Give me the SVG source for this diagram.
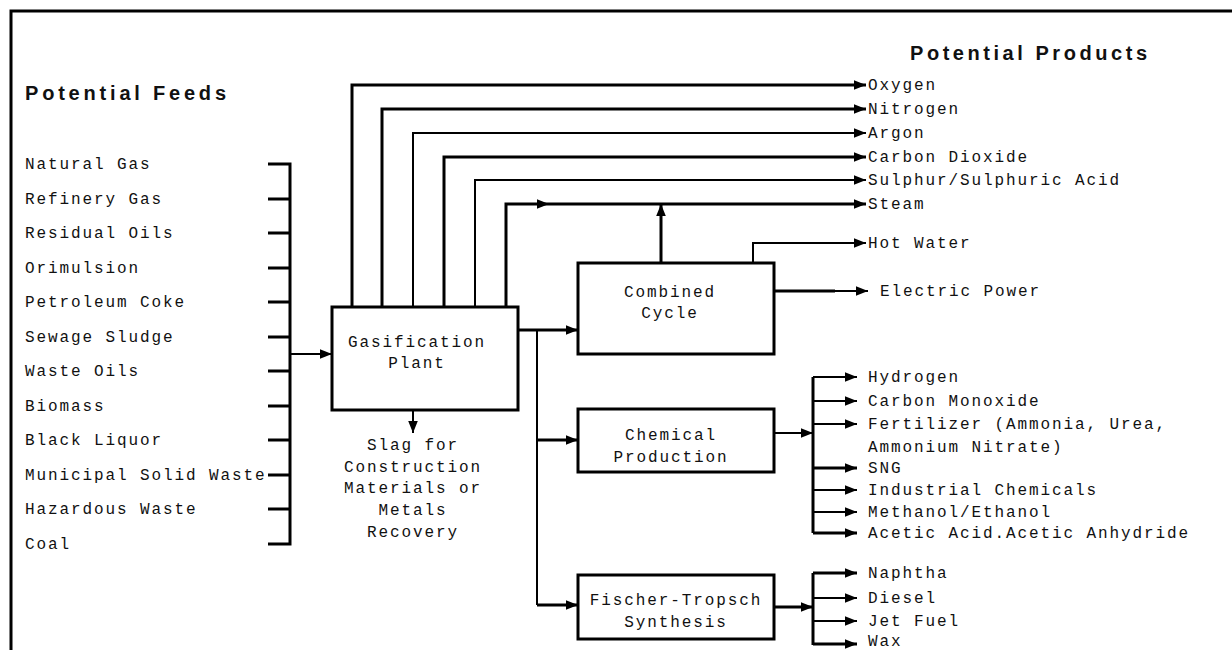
<svg xmlns="http://www.w3.org/2000/svg" width="1232" height="650" viewBox="0 0 1232 650">
<style>
.t{font-family:"Liberation Mono","DejaVu Sans Mono",monospace;font-size:16px;letter-spacing:1.9px;fill:#111}
.c{text-anchor:middle}
.h{font-family:"Liberation Sans","DejaVu Sans",sans-serif;font-size:20px;font-weight:bold;fill:#111;letter-spacing:1px}
.box{fill:#fff;stroke:#000;stroke-width:3}
.ln{fill:none;stroke:#000;stroke-width:2}
.tk{fill:none;stroke:#000;stroke-width:3}
.ar{marker-end:url(#ah)}
</style>
<defs>
<marker id="ah" viewBox="0 0 10 8" refX="10" refY="4" markerWidth="12" markerHeight="10" markerUnits="userSpaceOnUse" orient="auto"><path d="M0,0 L10,4 L0,8 z" fill="#000"/></marker>
</defs>
<rect width="1232" height="650" fill="#fff"/>
<path d="M11,650 V11 H1232" fill="none" stroke="#000" stroke-width="3"/>
<text class="h" x="25" y="100" textLength="202">Potential Feeds</text>
<text class="h" x="910" y="60" textLength="238">Potential Products</text>

<g id="feeds">
<text class="t" x="25" y="169">Natural Gas</text>
<text class="t" x="25" y="204">Refinery Gas</text>
<text class="t" x="25" y="238">Residual Oils</text>
<text class="t" x="25" y="273">Orimulsion</text>
<text class="t" x="25" y="307">Petroleum Coke</text>
<text class="t" x="25" y="342">Sewage Sludge</text>
<text class="t" x="25" y="376">Waste Oils</text>
<text class="t" x="25" y="411">Biomass</text>
<text class="t" x="25" y="445">Black Liquor</text>
<text class="t" x="25" y="480">Municipal Solid Waste</text>
<text class="t" x="25" y="514">Hazardous Waste</text>
<text class="t" x="25" y="549">Coal</text>
</g>

<g id="gasification">
<rect class="box" x="332" y="307" width="186" height="103"/>
<text class="t c" x="417" y="347">Gasification</text>
<text class="t c" x="417" y="368">Plant</text>
</g>
<g id="slag">
<text class="t c" x="413" y="450">Slag for</text>
<text class="t c" x="413" y="472">Construction</text>
<text class="t c" x="413" y="493">Materials or</text>
<text class="t c" x="413" y="515">Metals</text>
<text class="t c" x="413" y="537">Recovery</text>
</g>
<g id="combined">
<rect class="box" x="578" y="263" width="196" height="91"/>
<text class="t c" x="670" y="297">Combined</text>
<text class="t c" x="670" y="318">Cycle</text>
</g>
<g id="chemical">
<rect class="box" x="578" y="409" width="196" height="63"/>
<text class="t c" x="671" y="440">Chemical</text>
<text class="t c" x="671" y="462">Production</text>
</g>
<g id="ft">
<rect class="box" x="578" y="575" width="196" height="64"/>
<text class="t c" x="676" y="605">Fischer-Tropsch</text>
<text class="t c" x="676" y="627">Synthesis</text>
</g>

<g id="products">
<text class="t" x="868" y="90">Oxygen</text>
<text class="t" x="868" y="114">Nitrogen</text>
<text class="t" x="868" y="138">Argon</text>
<text class="t" x="868" y="162">Carbon Dioxide</text>
<text class="t" x="868" y="185">Sulphur/Sulphuric Acid</text>
<text class="t" x="868" y="209">Steam</text>
<text class="t" x="868" y="248">Hot Water</text>
<text class="t" x="880" y="296">Electric Power</text>
<text class="t" x="868" y="382">Hydrogen</text>
<text class="t" x="868" y="406">Carbon Monoxide</text>
<text class="t" x="868" y="429">Fertilizer (Ammonia, Urea,</text>
<text class="t" x="868" y="452">Ammonium Nitrate)</text>
<text class="t" x="868" y="473">SNG</text>
<text class="t" x="868" y="495">Industrial Chemicals</text>
<text class="t" x="868" y="517">Methanol/Ethanol</text>
<text class="t" x="868" y="538">Acetic Acid.Acetic Anhydride</text>
<text class="t" x="868" y="578">Naphtha</text>
<text class="t" x="868" y="603">Diesel</text>
<text class="t" x="868" y="626">Jet Fuel</text>
<text class="t" x="868" y="646">Wax</text>
</g>

<g id="connectors">
<path class="tk" d="M268,164 H290 V544 H268"/>
<path class="tk" d="M268,199 H290 M268,233 H290 M268,268 H290 M268,302 H290 M268,337 H290 M268,371 H290 M268,406 H290 M268,440 H290 M268,475 H290 M268,509 H290"/>
<path class="ln ar" d="M290,354 H332"/>
<path class="tk ar" d="M352,307 V85 H866" stroke-width="2.5"/>
<path class="tk ar" d="M382,307 V109 H866" stroke-width="2.5"/>
<path class="ln ar" d="M413,307 V133 H866"/>
<path class="tk ar" d="M444,307 V157 H866" stroke-width="2.5"/>
<path class="ln ar" d="M475,307 V180 H866"/>
<path class="tk ar" d="M506,307 V204 H866" stroke-width="2.5"/>
<path class="ln ar" d="M530,204 H549"/>
<path class="tk ar" d="M661,263 V204"/>
<path class="ln ar" d="M413,410 V433"/>
<path class="tk ar" d="M518,330 H578"/>
<path class="ln" d="M537,330 V605"/>
<path class="tk ar" d="M537,440 H578"/>
<path class="tk ar" d="M537,605 H578"/>
<path class="ln ar" d="M753,263 V243 H866"/>
<path class="tk" d="M774,291 H835"/>
<path class="ln ar" d="M835,291 H868"/>
<path class="ln ar" d="M774,433 H813"/>
<path class="tk" d="M813,377 V533"/>
<path class="ln ar" d="M813,377 H857"/>
<path class="ln ar" d="M813,401 H857"/>
<path class="ln ar" d="M813,424 H857"/>
<path class="tk ar" d="M813,468 H857"/>
<path class="ln ar" d="M813,490 H857"/>
<path class="ln ar" d="M813,512 H857"/>
<path class="tk ar" d="M813,533 H857"/>
<path class="tk ar" d="M774,607 H813"/>
<path class="tk" d="M813,573 V645"/>
<path class="tk ar" d="M813,573 H857"/>
<path class="ln ar" d="M813,598 H857"/>
<path class="ln ar" d="M813,621 H857"/>
<path class="tk ar" d="M813,644 H857"/>
</g>
</svg>
